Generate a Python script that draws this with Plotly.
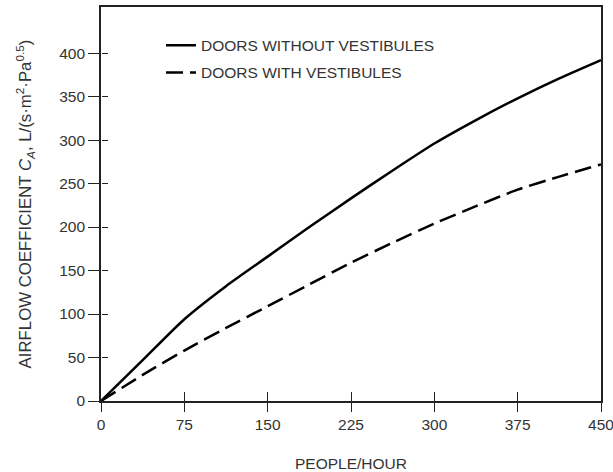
import plotly.graph_objects as go

people_per_hour = [0, 37.5, 75, 112.5, 150, 187.5, 225, 262.5, 300, 337.5, 375, 412.5, 450]
without_vestibules = [0, 47, 94, 132, 166, 200, 233, 265, 296, 323, 348, 371, 392]
with_vestibules = [0, 30, 58, 84, 109, 134, 159, 182, 204, 224, 243, 258, 272]

x_ticks = [0, 75, 150, 225, 300, 375, 450]
y_ticks = [0, 50, 100, 150, 200, 250, 300, 350, 400]

FONT = "Liberation Sans, Arial, sans-serif"
TXT = "#333333"
AX = "#222222"
FS = 15.5

fig = go.Figure()
fig.add_trace(go.Scatter(
    x=people_per_hour, y=without_vestibules, mode="lines",
    name="DOORS WITHOUT VESTIBULES", legendgroup="a",
    line=dict(color="black", width=2.5, shape="spline", smoothing=0.6),
))
fig.add_trace(go.Scatter(
    x=people_per_hour, y=with_vestibules, mode="lines",
    name="DOORS WITH VESTIBULES", legendgroup="b",
    line=dict(color="black", width=2.5, dash="17px,7px", shape="spline", smoothing=0.6),
))
# invisible carrier trace for the inside-tick overlay axes
fig.add_trace(go.Scatter(
    x=people_per_hour, y=without_vestibules, mode="lines", xaxis="x2", yaxis="y2",
    line=dict(width=1, color="rgba(0,0,0,0)"), showlegend=False, hoverinfo="skip",
))

fig.update_layout(
    width=613, height=472,
    margin=dict(l=101, r=12, t=7, b=71),
    paper_bgcolor="white", plot_bgcolor="white",
    font=dict(family=FONT, size=FS, color=TXT),
    showlegend=True,
    legend=dict(x=0.12, y=0.945, xanchor="left", yanchor="top",
                bgcolor="rgba(0,0,0,0)", font=dict(size=FS, color=TXT),
                traceorder="grouped", tracegroupgap=4, itemwidth=30),
    xaxis=dict(
        range=[0, 450], tickmode="array", tickvals=x_ticks, ticktext=[str(v) for v in x_ticks],
        ticks="outside", ticklen=9, tickwidth=1.3, tickcolor=AX,
        showline=True, linewidth=1.6, linecolor=AX, mirror=True,
        showgrid=False, zeroline=False, automargin=False, ticklabeloverflow="allow",
        title=dict(text="PEOPLE/HOUR", standoff=26, font=dict(size=FS, color=TXT)),
        tickfont=dict(size=FS, color=TXT),
    ),
    yaxis=dict(
        range=[0, 453], tickmode="array", tickvals=y_ticks, ticktext=[str(v) for v in y_ticks],
        ticks="outside", ticklen=11, tickwidth=1.3, tickcolor=AX,
        showline=True, linewidth=1.6, linecolor=AX, mirror=True,
        showgrid=False, zeroline=False, automargin=False, ticklabeloverflow="allow",
        title=dict(text="AIRFLOW COEFFICIENT <i>C<sub>A</sub></i>, L/(s·m<sup>2</sup>·Pa<sup>0.5</sup>)",
                   standoff=23, font=dict(size=16.8, color=TXT)),
        tickfont=dict(size=FS, color=TXT),
    ),
    xaxis2=dict(
        overlaying="x", anchor="free", position=0, side="bottom", range=[0, 450],
        tickmode="array", tickvals=x_ticks, automargin=False,
        ticks="inside", ticklen=9, tickwidth=1.3, tickcolor=AX,
        showticklabels=False, showline=False, showgrid=False, zeroline=False,
    ),
    yaxis2=dict(
        overlaying="y", anchor="free", position=0, side="left", range=[0, 453],
        tickmode="array", tickvals=y_ticks, automargin=False,
        ticks="inside", ticklen=6, tickwidth=1.3, tickcolor=AX,
        showticklabels=False, showline=False, showgrid=False, zeroline=False,
    ),
)

fig.write_html("out.html")
